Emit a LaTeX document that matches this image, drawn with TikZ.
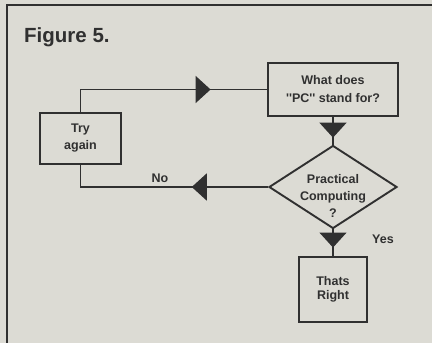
\documentclass[tikz,border=0pt]{standalone}
\usepackage{fontspec}
\setmainfont{Liberation Sans}
\usetikzlibrary{arrows.meta,shapes.geometric,decorations.markings}
\definecolor{paper}{RGB}{220,219,212}
\definecolor{ink}{RGB}{48,48,48}
\tikzset{
  boxstyle/.style={draw=ink, line width=1.9pt, fill=none, inner sep=0pt, align=center,
    text=ink, font=\bfseries\fontsize{12.5}{18}\selectfont},
  decision/.style={draw=ink, line width=1.9pt, shape=diamond, inner sep=0pt,
    minimum width=128pt, minimum height=83pt},
  txt/.style={text=ink, inner sep=0pt, align=center, font=\bfseries\fontsize{12.5}{17}\selectfont},
  conn/.style={draw=ink, line width=1.4pt},
  midtri/.style={postaction={decorate}, decoration={markings,
    mark=at position #1 with {\arrow[ink]{Triangle[width=27pt,length=15pt]}}}},
}
\begin{document}
\begin{tikzpicture}[x=1pt,y=-1pt]
\useasboundingbox (0,0) rectangle (432,343);
\fill[paper] (0,0) rectangle (432,343);
% frame
\draw[ink, line width=2pt] (6.5,343) -- (6.5,5) -- (432,5);
\node[anchor=base west, inner sep=0pt, text=ink, font=\bfseries\fontsize{20.5}{24}\selectfont] (title) at (24,42) {Figure 5.};
% nodes
\node[boxstyle, minimum width=130pt, minimum height=53pt] (pc) at (333,89.5) {What does\\\textquotesingle\textquotesingle PC\textquotesingle\textquotesingle{} stand for?};
\node[boxstyle, minimum width=81pt, minimum height=51pt, font=\bfseries\fontsize{12.5}{17}\selectfont] (try) at (80.5,138.5) {Try\\again};
\node[decision] (dec) at (333,187) {};
\node[txt] (dectext) at (333,195.5) {Practical\\Computing\\?};
\node[boxstyle, minimum width=68pt, minimum height=65pt, font=\bfseries\fontsize{12.5}{14.5}\selectfont] (right) at (333,289.5) {Thats\\Right};
% labels
\node[txt, anchor=base] (no) at (160,182) {No};
\node[txt, anchor=base west] (yes) at (372,243) {Yes};
% connectors
\draw[conn, midtri=0.73] (try.north) |- (pc.west);
\draw[conn, midtri=0.75] (pc.south) -- (dec.north);
\draw[conn, midtri=0.364] (dec.west) -| (try.south);
\draw[conn, midtri=0.68] (dec.south) -- (right.north);
\end{tikzpicture}
\end{document}
